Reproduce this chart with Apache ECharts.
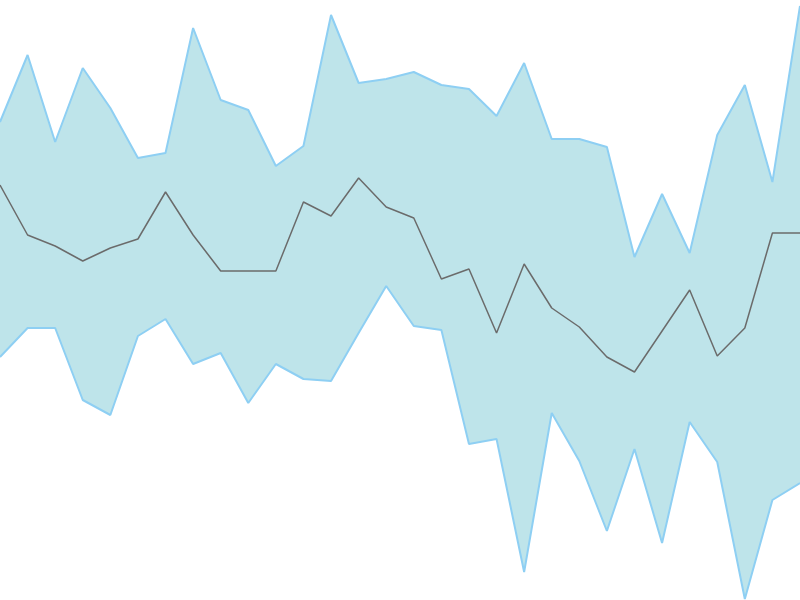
<!DOCTYPE html>
<html>
<head>
<meta charset="utf-8">
<script src="https://cdn.jsdelivr.net/npm/echarts@6/dist/echarts.min.js"></script>
<style>html,body{margin:0;padding:0;background:#fff;}#c{width:800px;height:600px;}</style>
</head>
<body>
<div id="c"></div>
<script>
var categories = ['1','2','3','4','5','6','7','8','9','10','11','12','13','14','15','16','17','18','19','20','21','22','23','24','25','26','27','28','29','30'];
var upper = [478,545,458,532,492,442,447,572,500,490,434,454,585,517,521,528,515,511,484,537,461,461,453,343,406,347,465,515,418,594];
var middle = [415,365,354,339,352,361,408,365,329,329,329,398,384,422,393,382,321,331,267,336,292,273,243,228,269,310,244,272,367,367];
var lower = [243,272,272,200,185,264,281,236,247,197,236,221,219,267,314,274,270,156,161,28,187,139,69,151,57,178,138,1,100,117];

var bandWidth = upper.map(function(u, i){ return u - lower[i]; });

var chart = echarts.init(document.getElementById('c'));
chart.setOption({
  animation: false,
  backgroundColor: '#ffffff',
  grid: {left: 0, right: 0, top: 0, bottom: 0},
  xAxis: {type: 'category', data: categories, boundaryGap: false, show: false},
  yAxis: {type: 'value', min: 0, max: 600, show: false},
  series: [
    {
      name: 'lower', type: 'line', data: lower, stack: 'band',
      symbol: 'none', lineStyle: {color: '#8ecff3', width: 2}
    },
    {
      name: 'band', type: 'line', data: bandWidth, stack: 'band',
      symbol: 'none', lineStyle: {color: '#8ecff3', width: 2},
      areaStyle: {color: '#bee4ea', opacity: 1}
    },
    {
      name: 'middle', type: 'line', data: middle,
      symbol: 'none', lineStyle: {color: '#6b6b6b', width: 1.5}
    }
  ]
});
</script>
</body>
</html>
